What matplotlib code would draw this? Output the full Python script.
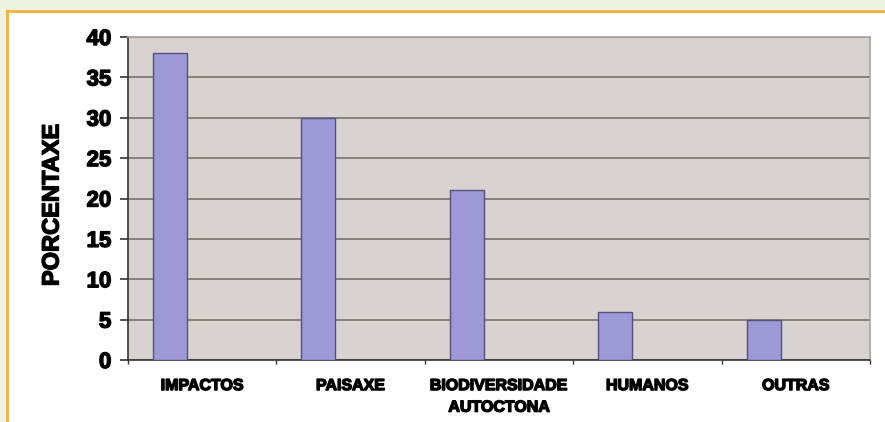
import matplotlib.pyplot as plt
import matplotlib.patheffects as pe
from matplotlib.patches import Rectangle
import numpy as np

# datos
categorias = ['IMPACTOS', 'PAISAXE', 'BIODIVERSIDADE\nAUTOCTONA', 'HUMANOS', 'OUTRAS']
porcentaxe = [38, 30, 21, 6, 5]
y_ticks = [0, 5, 10, 15, 20, 25, 30, 35, 40]

plt.rcParams['font.family'] = ['Liberation Sans', 'DejaVu Sans']
plt.rcParams['font.weight'] = 'bold'

W, H = 885, 422
fig = plt.figure(figsize=(W / 100, H / 100), dpi=100)
fig.patch.set_facecolor('#eef3e4')

# panel branco con borde laranxa
fig.add_artist(Rectangle((7 / W, 0), 1, 1 - 12 / H, transform=fig.transFigure,
                         facecolor='white', edgecolor='none', zorder=-10))
fig.add_artist(plt.Line2D([7 / W, 1], [1 - 11 / H, 1 - 11 / H], transform=fig.transFigure,
                          color='#f7b23b', lw=2, zorder=-9))
fig.add_artist(plt.Line2D([7 / W, 7 / W], [0, 1 - 11 / H], transform=fig.transFigure,
                          color='#f7b23b', lw=2, zorder=-9))

ax = fig.add_axes([128 / W, (H - 360) / H, 742 / W, 323 / H])
ax.set_facecolor('#d8d3d1')

x = np.arange(len(categorias))
ax.bar(x + 0.168, porcentaxe, width=0.229, align='edge',
       color='#9d99d6', edgecolor='#55507a', linewidth=1, zorder=3)

ax.set_xlim(0, len(categorias))
ax.set_ylim(0, 40)
ax.set_yticks(y_ticks)
ax.yaxis.grid(True, color='#77726e', linewidth=1.2, zorder=1)
ax.set_axisbelow(True)

ax.set_xticks(np.arange(len(categorias) + 1))
ax.set_xticklabels([])
ax.set_xticks(x + 0.5, minor=True)
ax.set_xticklabels(categorias, minor=True, fontsize=11.5, linespacing=1.55)
ax.tick_params(axis='x', which='major', length=3, width=1, color='#333333')
ax.tick_params(axis='x', which='minor', length=0, pad=13)
ax.tick_params(axis='y', length=6, width=1.2, color='#333333', pad=6, labelsize=16)

# letra mais grosa, coma no orixinal
grosa = [pe.withStroke(linewidth=1.0, foreground='black')]
for lab in ax.get_yticklabels() + ax.get_xticklabels(minor=True):
    lab.set_path_effects(grosa)

for s in ['left', 'bottom']:
    ax.spines[s].set_color('#333333')
    ax.spines[s].set_linewidth(1.2)
for s in ['top', 'right']:
    ax.spines[s].set_color('#a8a4a2')
    ax.spines[s].set_linewidth(1.2)

fig.text(52 / W, 1 - 205 / H, 'PORCENTAXE', rotation=90, ha='center', va='center',
         fontsize=17, fontweight='bold', path_effects=grosa)

fig.savefig('out.png', dpi=100, facecolor=fig.get_facecolor())
